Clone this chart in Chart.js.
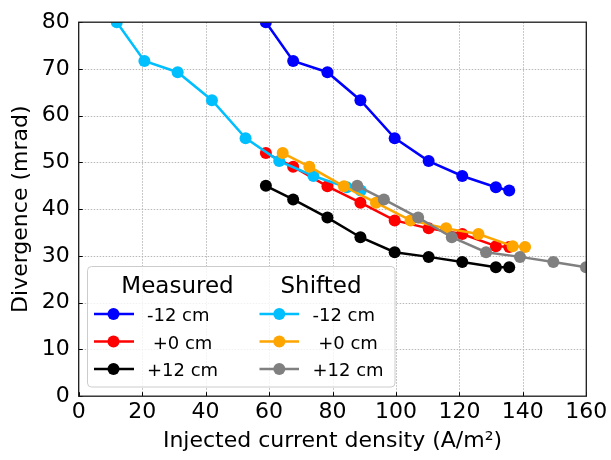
<!DOCTYPE html>
<html>
<head>
<meta charset="utf-8">
<script src="https://cdn.jsdelivr.net/npm/chart.js@4/dist/chart.umd.min.js"></script>
<style>
html,body{margin:0;padding:0;background:#fff;}
#wrap{width:611px;height:460px;}
</style>
</head>
<body>
<div id="wrap"><canvas id="c" width="611" height="460"></canvas></div>
<script>
// ---- data ----
const xTicks = [0, 20, 40, 60, 80, 100, 120, 140, 160];
const yTicks = [0, 10, 20, 30, 40, 50, 60, 70, 80];

const measuredX   = [59.0, 67.6, 78.4, 88.8, 99.6, 110.3, 120.9, 131.5, 135.7];
const measM12Y    = [80.0, 71.7, 69.3, 63.3, 55.2, 50.3, 47.1, 44.7, 44.0];
const meas0Y      = [52.0, 49.1, 44.9, 41.4, 37.6, 35.9, 34.7, 32.1, 31.9];
const meas12Y     = [45.0, 42.1, 38.2, 34.0, 30.8, 29.8, 28.7, 27.6, 27.6];

const shiftM12X   = [12.0, 20.7, 31.2, 42.0, 52.6, 63.2, 74.0, 84.5, 88.9];
const shiftM12Y   = [80.0, 71.7, 69.3, 63.3, 55.2, 50.3, 47.1, 44.7, 44.0];
const shift0X     = [64.3, 72.7, 83.6, 93.7, 104.6, 115.8, 126.0, 136.8, 140.7];
const shift0Y     = [52.0, 49.1, 44.9, 41.4, 37.6, 35.9, 34.7, 32.1, 31.9];
const shift12X    = [87.8, 96.2, 107.0, 117.6, 128.4, 139.1, 149.6, 159.9, 164.1];
const shift12Y    = [45.0, 42.1, 38.2, 34.0, 30.8, 29.8, 28.7, 27.6, 27.6];

const seriesLabels = ['-12 cm', ' +0 cm', '+12 cm'];
const groupTitles  = ['Measured', 'Shifted'];
const colors = ['#0000ff', '#ff0000', '#000000', '#00bfff', '#ffa500', '#808080'];

const FONT = "'DejaVu Sans', sans-serif";

function pts(xs, ys){ return xs.map((x,i)=>({x:x, y:ys[i]})); }

const seriesData = [
  pts(measuredX, measM12Y), pts(measuredX, meas0Y), pts(measuredX, meas12Y),
  pts(shiftM12X, shiftM12Y), pts(shift0X, shift0Y), pts(shift12X, shift12Y)
];

const datasets = seriesData.map((d, i) => ({
  label: (i < 3 ? 'Measured ' : 'Shifted ') + seriesLabels[i % 3],
  data: d,
  borderColor: colors[i],
  backgroundColor: colors[i],
  pointBackgroundColor: colors[i],
  pointBorderColor: colors[i],
  borderWidth: 2.5,
  pointRadius: 6,
  pointHoverRadius: 6,
  pointBorderWidth: 0,
  tension: 0,
  clip: 0,
  order: 6 - i
}));

const framePlugin = {
  id: 'frame',
  beforeDatasetsDraw(chart) {
    const {ctx, chartArea: a, scales: {x, y}} = chart;
    ctx.save();
    ctx.strokeStyle = '#b0b0b0';
    ctx.lineWidth = 0.9;
    ctx.setLineDash([1.5, 1.5]);
    xTicks.forEach(v => {
      if (v <= x.min || v >= x.max) return;
      const px = Math.round(x.getPixelForValue(v)) + 0.5;
      ctx.beginPath(); ctx.moveTo(px, a.top); ctx.lineTo(px, a.bottom); ctx.stroke();
    });
    yTicks.forEach(v => {
      if (v <= y.min || v >= y.max) return;
      const py = Math.round(y.getPixelForValue(v)) + 0.5;
      ctx.beginPath(); ctx.moveTo(a.left, py); ctx.lineTo(a.right, py); ctx.stroke();
    });
    ctx.restore();
  },
  afterDatasetsDraw(chart) {
    const {ctx, chartArea: a, scales: {x, y}} = chart;
    ctx.save();
    ctx.setLineDash([]);
    ctx.strokeStyle = '#000';
    ctx.lineWidth = 1;
    xTicks.forEach(v => {
      const px = Math.round(x.getPixelForValue(v)) + 0.5;
      ctx.beginPath(); ctx.moveTo(px, a.bottom); ctx.lineTo(px, a.bottom - 4); ctx.stroke();
    });
    yTicks.forEach(v => {
      const py = Math.round(y.getPixelForValue(v)) + 0.5;
      ctx.beginPath(); ctx.moveTo(a.left, py); ctx.lineTo(a.left + 4, py); ctx.stroke();
    });
    ctx.lineWidth = 1.3;
    ctx.strokeStyle = '#1a1a1a';
    ctx.strokeRect(a.left, a.top, a.right - a.left, a.bottom - a.top);

    // legend
    const bx = 87.5, by = 266.5, bw = 307.5, bh = 120.5, r = 4;
    ctx.beginPath();
    ctx.moveTo(bx + r, by);
    ctx.arcTo(bx + bw, by, bx + bw, by + bh, r);
    ctx.arcTo(bx + bw, by + bh, bx, by + bh, r);
    ctx.arcTo(bx, by + bh, bx, by, r);
    ctx.arcTo(bx, by, bx + bw, by, r);
    ctx.closePath();
    ctx.fillStyle = 'rgba(255,255,255,0.8)';
    ctx.fill();
    ctx.strokeStyle = '#cccccc';
    ctx.lineWidth = 1;
    ctx.stroke();

    ctx.fillStyle = '#000';
    ctx.textBaseline = 'alphabetic';
    ctx.textAlign = 'center';
    ctx.font = '23px ' + FONT;
    ctx.fillText(groupTitles[0], 177.5, 292.5);
    ctx.fillText(groupTitles[1], 321, 292.5);

    const rowsY = [314, 341.5, 369];
    const cols = [{l0: 94, l1: 134, m: 113.5, t: 147}, {l0: 259.5, l1: 299, m: 279.3, t: 312.5}];
    ctx.font = '18px ' + FONT;
    ctx.textAlign = 'left';
    for (let c = 0; c < 2; c++) {
      for (let rI = 0; rI < 3; rI++) {
        const idx = c * 3 + rI;
        const yy = rowsY[rI];
        ctx.strokeStyle = colors[idx];
        ctx.lineWidth = 2.5;
        ctx.beginPath(); ctx.moveTo(cols[c].l0, yy); ctx.lineTo(cols[c].l1, yy); ctx.stroke();
        ctx.fillStyle = colors[idx];
        ctx.beginPath(); ctx.arc(cols[c].m, yy, 6, 0, Math.PI * 2); ctx.fill();
        ctx.fillStyle = '#000';
        ctx.fillText(seriesLabels[rI], cols[c].t, yy + 7);
      }
    }
    ctx.restore();
  }
};

new Chart(document.getElementById('c'), {
  type: 'line',
  data: { datasets: datasets },
  plugins: [framePlugin],
  options: {
    responsive: false,
    animation: false,
    devicePixelRatio: 1,
    layout: { padding: { top: 15, right: 24.7, left: 0, bottom: 0 } },
    plugins: { legend: { display: false }, tooltip: { enabled: false } },
    events: [],
    scales: {
      x: {
        type: 'linear', min: 0, max: 160,
        afterBuildTicks: s => { s.ticks = xTicks.map(v => ({value: v})); },
        afterFit: s => { s.height = 63.8; },
        grid: { display: false, drawTicks: false },
        border: { display: false },
        ticks: { color: '#000', padding: 3, maxRotation: 0, autoSkip: false, font: { family: FONT, size: 22 } },
        title: { display: true, text: 'Injected current density (A/m²)', color: '#000', padding: { top: 0, bottom: 6 }, font: { family: FONT, size: 22 } }
      },
      y: {
        type: 'linear', min: 0, max: 80,
        afterBuildTicks: s => { s.ticks = yTicks.map(v => ({value: v})); },
        afterFit: s => { s.width = 78.7; },
        grid: { display: false, drawTicks: false },
        border: { display: false },
        ticks: { color: '#000', padding: 9, autoSkip: false, font: { family: FONT, size: 22 } },
        title: { display: true, text: 'Divergence (mrad)', color: '#000', padding: { top: 8, bottom: 0 }, font: { family: FONT, size: 22 } }
      }
    }
  }
});
</script>
</body>
</html>
